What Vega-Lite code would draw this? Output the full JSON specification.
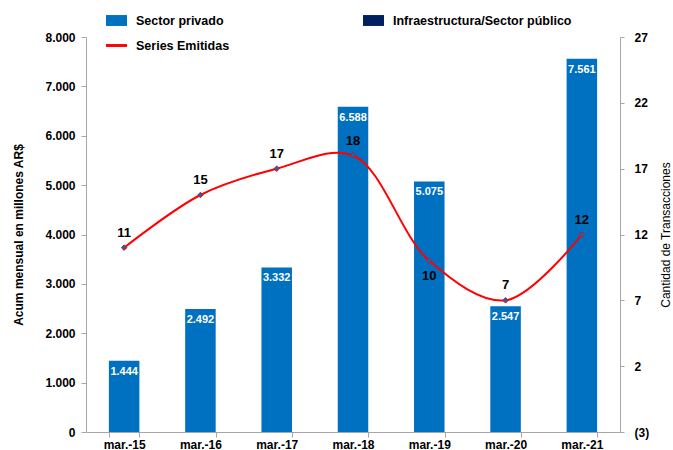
{
  "$schema": "https://vega.github.io/schema/vega-lite/v6.json",
  "width": 534,
  "height": 395,
  "autosize": "none",
  "padding": {"left": 86, "top": 37, "right": 53, "bottom": 18},
  "config": {
    "view": {"stroke": null},
    "font": "Liberation Sans",
    "locale": {"number": {"decimal": ",", "thousands": ".", "grouping": [3], "currency": ["$", ""]}},
    "axis": {"grid": false, "domainColor": "#A6A6A6", "tickColor": "#A6A6A6", "labelFont": "Liberation Sans", "labelFontWeight": "bold", "labelFontSize": 12, "labelColor": "#000000", "titleFont": "Liberation Sans", "titleFontSize": 12, "titleFontWeight": "bold", "titleColor": "#000000"}
  },
  "data": {
    "values": [
      {"fecha": "mar.-15", "monto": 1444, "series": 11, "serie": "Sector privado"},
      {"fecha": "mar.-16", "monto": 2492, "series": 15, "serie": "Sector privado"},
      {"fecha": "mar.-17", "monto": 3332, "series": 17, "serie": "Sector privado"},
      {"fecha": "mar.-18", "monto": 6588, "series": 18, "serie": "Sector privado"},
      {"fecha": "mar.-19", "monto": 5075, "series": 10, "serie": "Sector privado"},
      {"fecha": "mar.-20", "monto": 2547, "series": 7, "serie": "Sector privado"},
      {"fecha": "mar.-21", "monto": 7561, "series": 12, "serie": "Sector privado"}
    ]
  },
  "encoding": {
    "x": {
      "field": "fecha", "type": "nominal", "sort": null,
      "scale": {"paddingInner": 0.6, "paddingOuter": 0.3},
      "axis": {"title": null, "labelAngle": 0, "tickBand": "extent", "tickSize": 5, "labelPadding": 2, "labelFontSize": 12}
    }
  },
  "layer": [
    {
      "layer": [
        {
          "mark": {"type": "bar", "color": "#0070C0"},
          "encoding": {
            "y": {
              "field": "monto", "type": "quantitative",
              "scale": {"domain": [0, 8000], "nice": false},
              "axis": {"orient": "left", "title": "Acum mensual en millones AR$", "values": [0,1000,2000,3000,4000,5000,6000,7000,8000], "format": ",.0f", "tickSize": 5, "labelPadding": 6, "titleX": -68, "titleY": 197.5, "titleAngle": 270, "titleBaseline": "middle"}
            },
            "color": {
              "field": "serie", "type": "nominal",
              "scale": {"domain": ["Sector privado", "Infraestructura/Sector público", "Series Emitidas"], "range": ["#0070C0", "#002060", "#FF0000"]},
              "legend": {
                "title": null, "orient": "none", "legendX": 20, "legendY": -27, "columns": 2, "direction": "horizontal",
                "columnPadding": 133, "rowPadding": 8, "padding": 0, "labelLimit": 400,
                "labelFont": "Liberation Sans", "labelFontSize": 12.5, "labelFontWeight": "bold", "labelColor": "#000000", "labelOffset": 9, "symbolSize": 441,
                "encode": {
                  "symbols": {
                    "update": {
                      "shape": {"signal": "datum.value === 'Series Emitidas' ? 'M-1,-0.14H1V0.14H-1Z' : 'M-1,-0.52H1V0.52H-1Z'"},
                      "fill": {"signal": "scale('color', datum.value)"},
                      "stroke": {"value": "transparent"},
                      "strokeWidth": {"value": 0},
                      "opacity": {"value": 1},
                      "size": {"value": 441}
                    }
                  }
                }
              }
            }
          }
        },
        {
          "mark": {"type": "text", "color": "#FFFFFF", "fontWeight": "bold", "fontSize": 11, "baseline": "top", "dy": 5, "font": "Liberation Sans"},
          "encoding": {
            "y": {"field": "monto", "type": "quantitative"},
            "text": {"field": "monto", "type": "quantitative", "format": ",.0f"}
          }
        }
      ]
    },
    {
      "layer": [
        {
          "mark": {"type": "line", "interpolate": "catmull-rom", "strokeWidth": 2},
          "encoding": {
            "y": {
              "field": "series", "type": "quantitative",
              "scale": {"domain": [-3, 27], "nice": false, "zero": false},
              "axis": {"orient": "right", "title": "Cantidad de Transacciones", "titleFontWeight": "normal", "values": [-3, 2, 7, 12, 17, 22, 27], "labelExpr": "datum.value < 0 ? '(' + abs(datum.value) + ')' : datum.value", "tickSize": 4, "labelPadding": 10, "titleX": 45, "titleY": 197.5, "titleAngle": 270, "titleBaseline": "middle"}
            },
            "color": {"datum": "Series Emitidas"}
          }
        },
        {
          "mark": {"type": "point", "shape": "diamond", "size": 30, "filled": true, "fill": "#0070C0", "stroke": "#FF0000", "strokeWidth": 1, "opacity": 1},
          "encoding": {
            "y": {"field": "series", "type": "quantitative"}
          }
        },
        {
          "transform": [{"filter": "datum.series != 10"}],
          "mark": {"type": "text", "color": "#000000", "fontWeight": "bold", "fontSize": 13, "baseline": "middle", "dy": -15, "font": "Liberation Sans"},
          "encoding": {
            "y": {"field": "series", "type": "quantitative"},
            "text": {"field": "series", "type": "quantitative"}
          }
        },
        {
          "transform": [{"filter": "datum.series == 10"}],
          "mark": {"type": "text", "color": "#000000", "fontWeight": "bold", "fontSize": 13, "baseline": "middle", "dy": 15, "font": "Liberation Sans"},
          "encoding": {
            "y": {"field": "series", "type": "quantitative"},
            "text": {"field": "series", "type": "quantitative"}
          }
        }
      ]
    }
  ],
  "resolve": {"scale": {"y": "independent"}}
}
